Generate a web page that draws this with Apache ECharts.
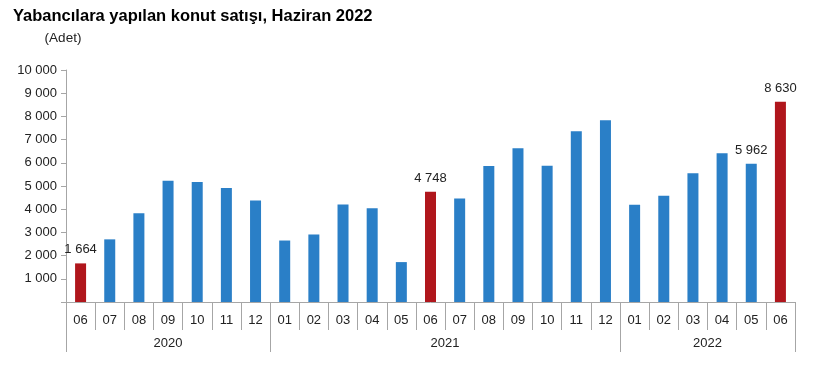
<!DOCTYPE html>
<html>
<head>
<meta charset="utf-8">
<script src="https://cdn.jsdelivr.net/npm/echarts@6/dist/echarts.min.js"></script>
<style>
  html, body { margin: 0; padding: 0; background: #fff; }
  #chart { width: 816px; height: 377px; }
</style>
</head>
<body>
<div id="chart"></div>
<script>
// aylar ve yillar
var months = ['06','07','08','09','10','11','12',
              '01','02','03','04','05','06','07','08','09','10','11','12',
              '01','02','03','04','05','06'];
var years = ['2020', '2021', '2022'];
var yearCounts = [7, 12, 6];   // her yilda kac ay var

// konut satisi (adet)
var sales = [1664, 2700, 3830, 5230, 5170, 4910, 4370,
             2650, 2910, 4200, 4040, 1720, 4748, 4460, 5865, 6630, 5870, 7355, 7830,
             4196, 4575, 5545, 6415, 5962, 8630];

// etiketi gosterilen aylar ve kirmizi (Haziran) aylar
var labelled = [0, 12, 23, 24];
var highlight = [0, 12, 24];

var yTicks = [0, 1000, 2000, 3000, 4000, 5000, 6000, 7000, 8000, 9000, 10000];

var BLUE = '#2a7fc7';
var RED = '#b0161c';
var FONT = '"Liberation Sans", Arial, sans-serif';

function fmt(v){
    // binlik ayirici bosluk
    return String(v).replace(/\B(?=(\d{3})+(?!\d))/g, ' ');
}

// yil sinirlari ve ortalari
var yearEdges = [0], yearMids = [];
for (var i = 0; i < yearCounts.length; i++) {
    var start = yearEdges[i];
    yearEdges.push(start + yearCounts[i]);
    yearMids.push(start + yearCounts[i] / 2);
}

var barData = sales.map(function(v, i){
    return {
        value: v,
        itemStyle: { color: highlight.indexOf(i) > -1 ? RED : BLUE },
        label: { show: labelled.indexOf(i) > -1 }
    };
});

var option = {
    animation: false,
    textStyle: { fontFamily: FONT },
    title: {
        text: 'Yabancılara yapılan konut satışı, Haziran 2022',
        left: 8, top: 3,
        textStyle: { fontFamily: FONT, fontSize: 16.5, fontWeight: 'bold', color: '#000' }
    },
    grid: { left: 66, right: 21, top: 70, bottom: 75 },
    xAxis: [
        {
            type: 'category',
            data: months,
            boundaryGap: true,
            axisLine: { lineStyle: { color: '#a6a6a6', width: 1 } },
            axisTick: { show: true, interval: 0, length: 28, lineStyle: { color: '#a6a6a6' } },
            axisLabel: { interval: 0, margin: 12, fontSize: 13, color: '#222', fontFamily: FONT }
        },
        {
            type: 'value',
            position: 'bottom',
            min: 0, max: months.length,
            axisLine: { show: false },
            splitLine: { show: false },
            axisTick: {
                show: true, length: 50, customValues: yearEdges,
                lineStyle: { color: '#a6a6a6' }
            },
            axisLabel: {
                customValues: yearMids, margin: 35, fontSize: 13, color: '#222', fontFamily: FONT,
                formatter: function(v){
                    var k = yearMids.indexOf(v);
                    return k > -1 ? years[k] : '';
                }
            }
        }
    ],
    yAxis: {
        type: 'value',
        min: yTicks[0], max: yTicks[yTicks.length - 1], interval: 1000,
        name: '(Adet)',
        nameGap: 25,
        nameTextStyle: { fontSize: 13.5, color: '#222', fontFamily: FONT, align: 'center', padding: [0, 6, 0, 0] },
        axisLine: { show: true, lineStyle: { color: '#a6a6a6' } },
        axisTick: { show: true, length: 5, lineStyle: { color: '#a6a6a6' } },
        splitLine: { show: false },
        axisLabel: {
            margin: 9, fontSize: 13, color: '#222', fontFamily: FONT,
            formatter: function(v){ return v === 0 ? '' : fmt(v); }
        }
    },
    series: [
        {
            type: 'bar',
            xAxisIndex: 0,
            barWidth: 11,
            data: barData,
            label: {
                position: 'top', distance: 7, fontSize: 13, color: '#222', fontFamily: FONT,
                formatter: function(p){ return fmt(p.value); }
            }
        }
    ]
};

var myChart = echarts.init(document.getElementById('chart'));
myChart.setOption(option);
</script>
</body>
</html>
